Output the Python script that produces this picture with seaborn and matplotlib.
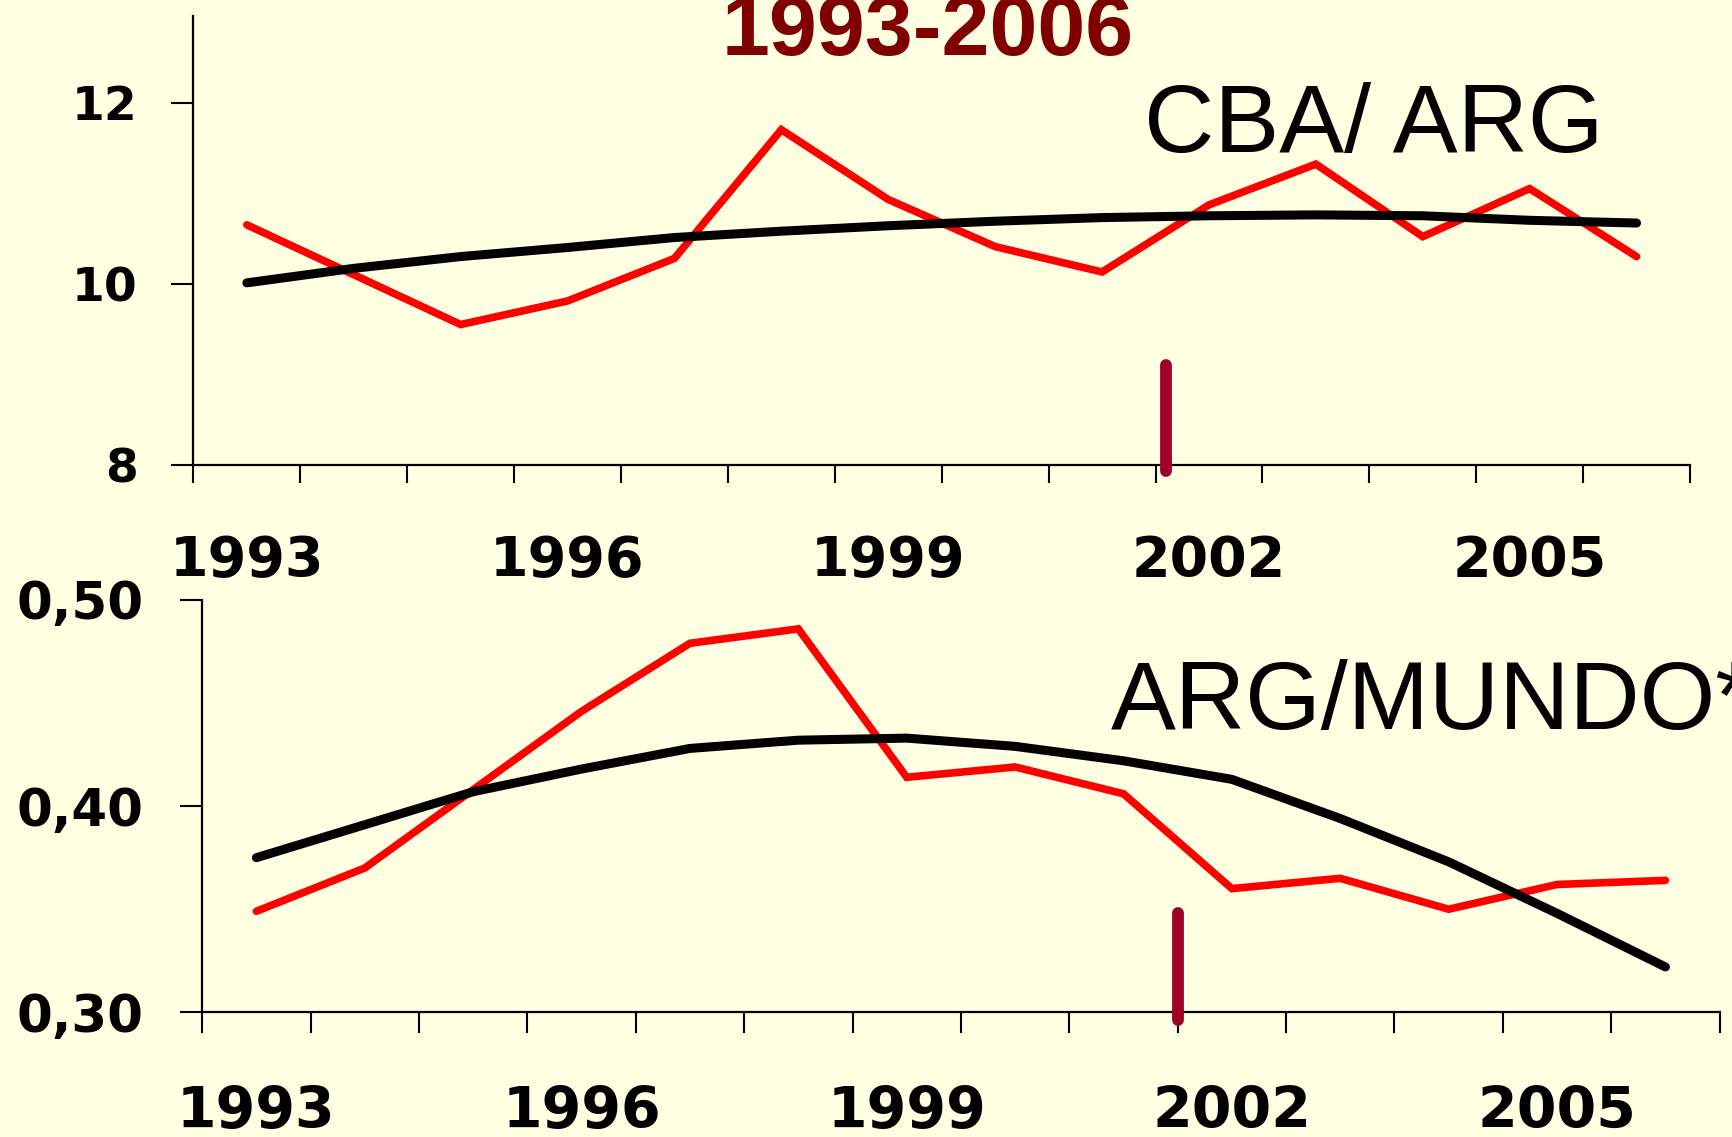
import matplotlib
matplotlib.use("Agg")
import matplotlib.pyplot as plt
import seaborn as sns
import pandas as pd

# ---- data ----
years = [1993, 1994, 1995, 1996, 1997, 1998, 1999, 2000, 2001, 2002, 2003, 2004, 2005, 2006]
year_labels = [1993, 1996, 1999, 2002, 2005]

cba_arg = [10.65, 10.10, 9.55, 9.81, 10.28, 11.70, 10.93, 10.41, 10.13, 10.87, 11.32, 10.52, 11.05, 10.30]
cba_arg_trend = [10.01, 10.17, 10.30, 10.40, 10.51, 10.58, 10.64, 10.69, 10.73, 10.75, 10.76, 10.75, 10.70, 10.67]

arg_mundo = [0.349, 0.370, 0.408, 0.446, 0.479, 0.486, 0.414, 0.419, 0.406, 0.360, 0.365, 0.350, 0.362, 0.364]
arg_mundo_trend = [0.375, 0.391, 0.407, 0.418, 0.428, 0.432, 0.433, 0.429, 0.422, 0.413, 0.394, 0.373, 0.348, 0.322]

top_yticks = [8, 10, 12]
bot_yticks = [0.30, 0.40, 0.50]
bot_yticklabels = ["0,30", "0,40", "0,50"]

crisis_top_x = [2001.6, 2001.6]
crisis_top_y = [9.10, 7.93]
crisis_bot_x = [2001.5, 2001.5]
crisis_bot_y = [0.348, 0.2965]

title = "1993-2006"
label_top = "CBA/ ARG"
label_bot = "ARG/MUNDO*"

# ---- style ----
sns.set_style("ticks")
plt.rcParams['font.family'] = ['DejaVu Sans']
plt.rcParams['text.color'] = 'black'
plt.rcParams['xtick.color'] = 'black'
plt.rcParams['ytick.color'] = 'black'
plt.rcParams['xtick.labelcolor'] = 'black'
plt.rcParams['ytick.labelcolor'] = 'black'
bg = "#FFFFE2"

W, H = 1733, 1137
fig = plt.figure(figsize=(W / 100, H / 100), dpi=100, facecolor=bg)

def px_axes(left, right, top, bottom):
    return fig.add_axes([left / W, 1 - bottom / H, (right - left) / W, (bottom - top) / H])

ax1 = px_axes(193.4, 1690, 15.5, 465)
ax2 = px_axes(202.2, 1719.6, 600, 1012.3)

df1 = pd.DataFrame({"year": years, "obs": cba_arg, "trend": cba_arg_trend})
df2 = pd.DataFrame({"year": years, "obs": arg_mundo, "trend": arg_mundo_trend})

for ax, df in ((ax1, df1), (ax2, df2)):
    ax.set_facecolor("none")
    sns.lineplot(data=df, x="year", y="obs", color="#FF0000", ax=ax)
    sns.lineplot(data=df, x="year", y="trend", color="#000000", ax=ax)
    lines = ax.get_lines()
    lines[0].set_linewidth(5.5)
    lines[0].set_solid_joinstyle("miter")
    lines[1].set_linewidth(6.5)
    lines[1].set_solid_capstyle("round")
    lines[1].set_solid_joinstyle("round")
    for s in ("top", "right"):
        ax.spines[s].set_visible(False)
    for s in ("left", "bottom"):
        ax.spines[s].set_linewidth(1.6)
        ax.spines[s].set_color("black")
    ax.set_xlim(1992.5, 2006.5)
    ax.set_xticks([y - 0.5 for y in years] + [years[-1] + 0.5])
    ax.set_xticklabels([])
    ax.set_xticks(year_labels, minor=True)
    ax.set_xlabel("")
    ax.set_ylabel("")

ax1.set_ylim(8, 12.96)
ax1.set_yticks(top_yticks)
ax1.set_yticklabels([str(t) for t in top_yticks])
ax1.set_xticklabels([str(y) for y in year_labels], minor=True)
ax1.tick_params(axis="y", which="major", length=16, width=1.5, pad=24,
                labelsize=34)
ax1.tick_params(axis="x", which="major", length=13, width=1.5)
ax1.tick_params(axis="x", which="minor", length=0, pad=50, labelsize=40)

ax2.set_ylim(0.30, 0.50)
ax2.set_yticks(bot_yticks)
ax2.set_yticklabels(bot_yticklabels)
ax2.set_xticklabels([str(y) for y in year_labels], minor=True)
ax2.tick_params(axis="y", which="major", length=16, width=1.5, pad=26,
                labelsize=37)
ax2.tick_params(axis="x", which="major", length=15, width=1.5)
ax2.tick_params(axis="x", which="minor", length=0, pad=52, labelsize=41)

for ax in (ax1, ax2):
    for lab in ax.get_xticklabels(minor=True) + ax.get_yticklabels():
        lab.set_fontweight("bold")
        lab.set_color("black")

ax1.plot(crisis_top_x, crisis_top_y, color="#A00028", lw=8.5,
         solid_capstyle="round", clip_on=False, zorder=5)
ax2.plot(crisis_bot_x, crisis_bot_y, color="#A00028", lw=8.5,
         solid_capstyle="round", clip_on=False, zorder=5)

fig.text(928 / W, 1 - 55 / H, title, ha="center", va="baseline",
         fontsize=62, fontweight="bold", color="#800000",
         family=["Liberation Sans", "DejaVu Sans"])
fig.text(1144 / W, 1 - 152.5 / H, label_top, ha="left", va="baseline",
         fontsize=70, color="black", family=["Liberation Sans", "DejaVu Sans"])
fig.text(1111 / W, 1 - 729.5 / H, label_bot, ha="left", va="baseline",
         fontsize=70, color="black", family=["Liberation Sans", "DejaVu Sans"])

fig.savefig("out.png", dpi=100, facecolor=bg)
